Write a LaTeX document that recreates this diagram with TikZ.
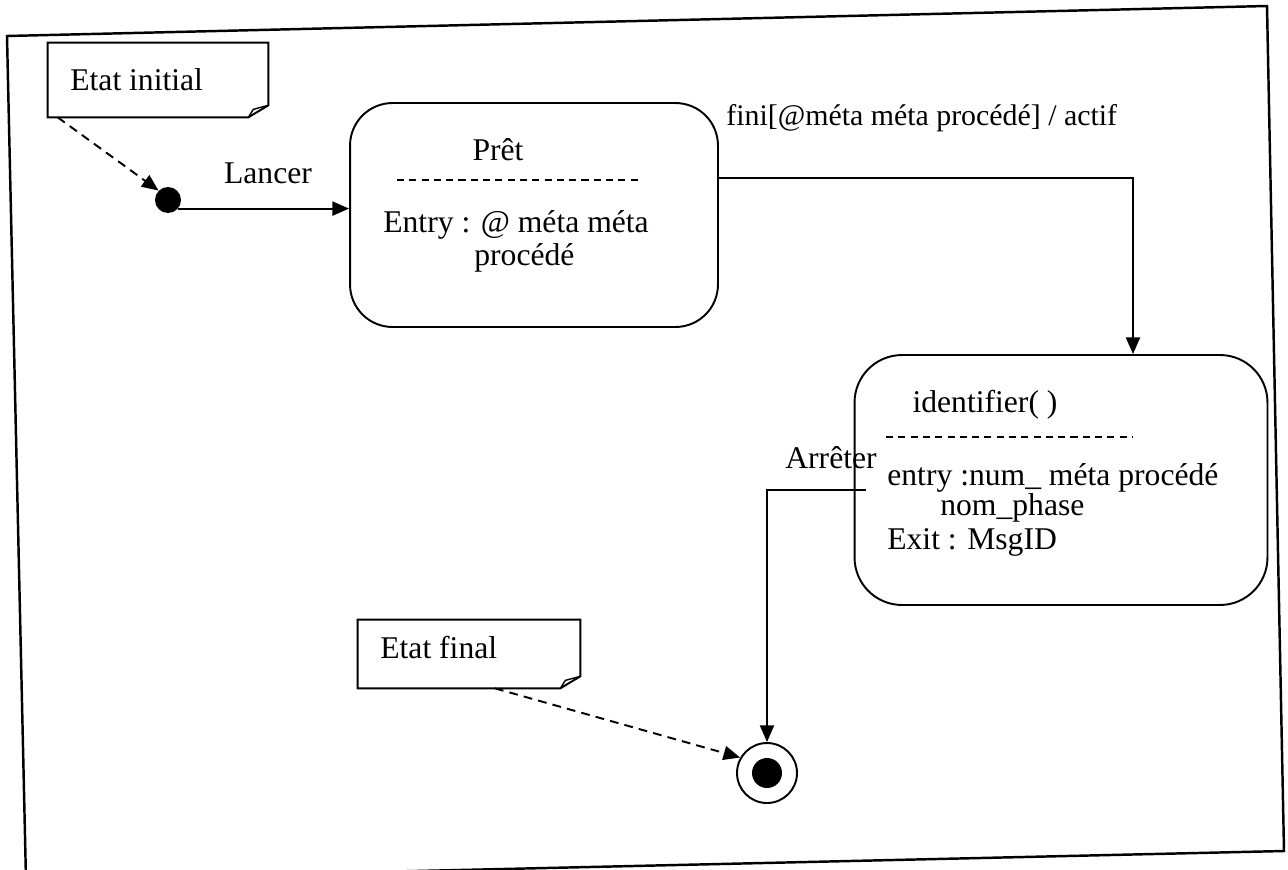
\documentclass[tikz,border=0pt]{standalone}
\usepackage{fontspec}
\setmainfont{Liberation Serif}
\usetikzlibrary{arrows.meta,calc}

\tikzset{
  px/.style={x=0.02cm,y=-0.02cm},
  line/.style={line width=1.1pt},
  arr/.style={line, -{Triangle[length=9.5pt,width=8pt]}},
  darr/.style={arr, dash pattern=on 5pt off 3.5pt},
  sep/.style={line width=0.8pt, dash pattern=on 4pt off 3pt},
  statebox/.style={draw, line width=1.1pt, rounded corners=0.85cm, inner sep=0pt},
  txt/.style={inner sep=0pt, font=\fontsize{18}{21}\selectfont},
  frame/.style={line width=1.4pt},
}

\begin{document}
\begin{tikzpicture}[px]
\useasboundingbox (0,0) rectangle (1288,869);

% outer border
\draw[frame] (7,36) -- (1267,6) -- (1284,851) -- (26,880) -- cycle;

% note "Etat initial"
\node[inner sep=0pt, minimum width=4.4cm, minimum height=1.48cm] (noteI) at (158,80) {};
\draw[line] (noteI.north west) -- (noteI.north east) -- ($(noteI.south east)+(0,-12)$)
  -- ($(noteI.south east)+(-20,0)$) -- (noteI.south west) -- cycle;
\draw[line width=0.8pt] ($(noteI.south east)+(-20,0)$) -- ($(noteI.south east)+(-15,-8)$) -- ($(noteI.south east)+(0,-12)$);
\node[txt, anchor=west] (noteIt) at (70,80) {Etat initial};

% initial pseudo-state
\node[circle, fill=black, inner sep=0pt, minimum size=0.52cm] (init) at (168,200) {};

% state Pret
\node[statebox, minimum width=7.36cm, minimum height=4.48cm] (pret) at (534,215) {};
\node[txt] (pretT) at (498,150) {Prêt};
\draw[sep] (397,180) -- (642,180);
\node[txt, anchor=west] (pretE) at (383,225) {Entry : @ méta méta};
\node[txt, anchor=west] (pretP) at (474,258) {procédé};

% state identifier
\node[statebox, minimum width=8.26cm, minimum height=5.0cm, rounded corners=0.95cm] (ident) at (1061,480) {};
\node[txt] (identT) at (985,405) {identifier( )};
\draw[sep] (886,437) -- (1133,437);
\node[txt, anchor=west] (identE) at (887,478) {entry :num\_ méta procédé};
\node[txt, anchor=west] (identN) at (940,508) {nom\_phase};
\node[txt, anchor=west] (identX) at (887,542) {Exit : MsgID};

% final state
\node[circle, draw, line width=1.1pt, inner sep=0pt, minimum size=1.2cm] (final) at (767,773) {};
\node[circle, fill=black, inner sep=0pt, minimum size=0.6cm] (finalDot) at (final.center) {};

% note "Etat final"
\node[inner sep=0pt, minimum width=4.44cm, minimum height=1.36cm] (noteF) at (469,654) {};
\draw[line] (noteF.north west) -- (noteF.north east) -- ($(noteF.south east)+(0,-12)$)
  -- ($(noteF.south east)+(-20,0)$) -- (noteF.south west) -- cycle;
\draw[line width=0.8pt] ($(noteF.south east)+(-20,0)$) -- ($(noteF.south east)+(-15,-8)$) -- ($(noteF.south east)+(0,-12)$);
\node[txt, anchor=west] (noteFt) at (380,648) {Etat final};

% transitions
\draw[darr] ($(noteI.south west)+(10,0)$) -- (init.135);
\draw[arr] (init.-40) -- (init.-40 -| pret.west);
\node[txt] (lancer) at (268,173) {Lancer};

\draw[arr] ($(pret.east)+(0,-37)$) -| ($(ident.north)+(72,0)$);
\node[txt, anchor=west, font=\fontsize{17}{21}\selectfont] (fini) at (726,118) {fini[@méta méta procédé] / actif};

\draw[arr] ($(ident.west)+(12,10)$) -| (final.north);
\node[txt, anchor=east] (arreter) at (877,458) {Arrêter};

\draw[darr] ($(noteF.south)+(26,0)$) -- (final.150);
\end{tikzpicture}
\end{document}
